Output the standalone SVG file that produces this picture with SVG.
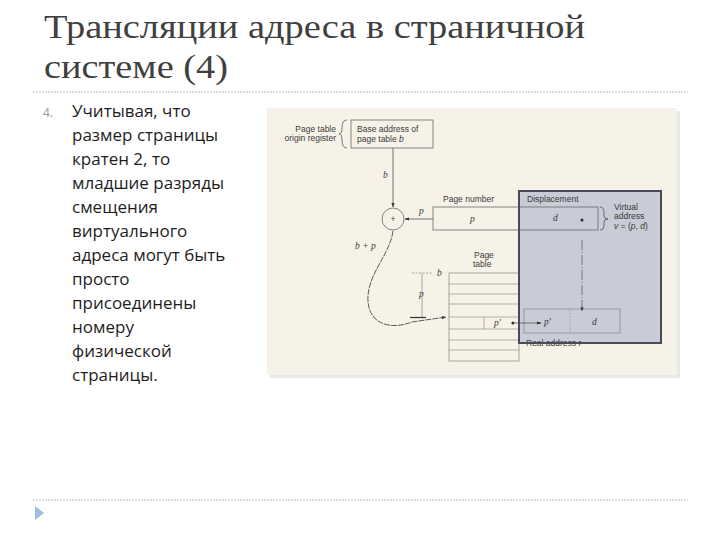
<svg xmlns="http://www.w3.org/2000/svg" width="720" height="540" viewBox="0 0 720 540">
<defs>
<style>
.title{font-family:"Liberation Serif","DejaVu Serif",serif;font-size:34px;fill:#404040}
.body{font-family:"Open Sans","Noto Sans",sans-serif;font-size:17px;fill:#1e1e1e}
.num{font-family:"Open Sans","Noto Sans",sans-serif;font-size:12px;fill:#9a9a9a}
.f{font-family:"Liberation Sans","DejaVu Sans",sans-serif;font-size:8.5px;fill:#3a3a3a}
.fi{font-family:"Liberation Serif","DejaVu Serif",serif;font-size:9.5px;font-style:italic;fill:#3a3a3a}
.ln{stroke:#555;stroke-width:0.8;fill:none}
.box{fill:none;stroke:#6a6a6a;stroke-width:0.8}
.row{stroke:#8a8480;stroke-width:0.6}
</style>
<marker id="ah" viewBox="0 0 10 10" refX="9" refY="5" markerWidth="6" markerHeight="6" orient="auto">
<path d="M0,1.5 L10,5 L0,8.5 z" fill="#333"/>
</marker>
</defs>
<rect width="720" height="540" fill="#ffffff"/>

<g id="title">
<text class="title" x="44" y="38" textLength="541" lengthAdjust="spacingAndGlyphs">Трансляции адреса в страничной</text>
<text class="title" x="44" y="78" textLength="184" lengthAdjust="spacingAndGlyphs">системе (4)</text>
<line x1="33" y1="92" x2="688" y2="92" stroke="#b8b8b8" stroke-width="1" stroke-dasharray="2,1"/>
</g>

<g id="body-text">
<text class="num" x="43" y="117">4.</text>
<text class="body" x="72">
<tspan x="72" y="117">Учитывая, что</tspan>
<tspan x="72" y="141">размер страницы</tspan>
<tspan x="72" y="165">кратен 2, то</tspan>
<tspan x="72" y="189">младшие разряды</tspan>
<tspan x="72" y="213">смещения</tspan>
<tspan x="72" y="237">виртуального</tspan>
<tspan x="72" y="261">адреса могут быть</tspan>
<tspan x="72" y="285">просто</tspan>
<tspan x="72" y="309">присоединены</tspan>
<tspan x="72" y="333">номеру</tspan>
<tspan x="72" y="357">физической</tspan>
<tspan x="72" y="381">страницы.</tspan>
</text>
</g>

<g id="figure-bg">
<rect x="270" y="111" width="410" height="267" fill="#d8d8d8" opacity="0.6"/>
<rect x="267" y="108" width="410" height="267" fill="#f6f2e8"/>
</g>

<g id="panel">
<rect x="519" y="191" width="142" height="152" fill="#c9cbd7"/>
</g>

<g id="base-register">
<text class="f" x="336" y="132" text-anchor="end">Page table</text>
<text class="f" x="336" y="141" text-anchor="end">origin register</text>
<path class="ln" d="M347,120 Q342,120 342,128 Q342,134 339,134 Q342,134 342,140 Q342,148 347,148"/>
<rect class="box" x="351" y="120" width="82" height="28"/>
<text class="f" x="357" y="132">Base address of</text>
<text class="f" x="357" y="142">page table <tspan font-style="italic">b</tspan></text>
</g>

<g id="adder">
<circle cx="393" cy="219" r="11" fill="none" stroke="#777" stroke-width="0.9"/>
<text class="f" x="393" y="222" text-anchor="middle">+</text>
</g>

<g id="virtual-address">
<text class="f" x="443" y="202">Page number</text>
<text class="f" x="527" y="202" fill="#4a4a5a">Displacement</text>
<rect class="box" x="433" y="207" width="165" height="23"/>
<line class="box" x1="519" y1="207" x2="519" y2="230"/>
<text class="fi" x="470" y="222">p</text>
<text class="fi" x="553" y="221">d</text>
<circle cx="582" cy="220" r="1.6" fill="#333"/>
<path class="ln" d="M600,207 Q604,207 604,212 L604,216 Q604,219 608,219 Q604,219 604,222 L604,226 Q604,230 600,230"/>
<text class="f" x="614" y="210">Virtual</text>
<text class="f" x="614" y="219">address</text>
<text class="f" x="614" y="229"><tspan font-style="italic">v</tspan> = (<tspan font-style="italic">p</tspan>, <tspan font-style="italic">d</tspan>)</text>
</g>

<g id="page-table">
<text class="f" x="474" y="258">Page</text>
<text class="f" x="473" y="267">table</text>
<rect x="449" y="273" width="70" height="88" fill="none" stroke="#8a8480" stroke-width="0.7"/>
<line class="row" x1="449" y1="284" x2="519" y2="284"/>
<line class="row" x1="449" y1="294" x2="519" y2="294"/>
<line class="row" x1="449" y1="304" x2="519" y2="304"/>
<line class="row" x1="449" y1="317" x2="519" y2="317"/>
<line class="row" x1="449" y1="329" x2="519" y2="329"/>
<line class="row" x1="449" y1="340" x2="519" y2="340"/>
<line class="row" x1="449" y1="350" x2="519" y2="350"/>
<line class="row" x1="484" y1="317" x2="484" y2="329"/>
<text class="fi" x="494" y="326">p'</text>
<circle cx="513" cy="323" r="1.6" fill="#333"/>
<text class="fi" x="437" y="276">b</text>
<line x1="412" y1="273" x2="433" y2="273" stroke="#888" stroke-width="0.7" stroke-dasharray="2,1.5"/>
<line x1="422" y1="273" x2="422" y2="317" stroke="#888" stroke-width="0.7"/>
<text class="fi" x="419" y="297">p</text>
</g>

<g id="real-address">
<rect x="524" y="309" width="96" height="24" fill="none" stroke="#8a8a96" stroke-width="0.8"/>
<line x1="570" y1="310" x2="570" y2="332" stroke="#999" stroke-width="0.8" stroke-dasharray="1.5,1.5"/>
<text class="fi" x="544" y="325">p'</text>
<text class="fi" x="592" y="325">d</text>
<text class="f" x="526" y="346" fill="#4a4a5a">Real address r</text>
</g>

<g id="panel-border">
<rect x="519" y="191" width="142" height="152" fill="none" stroke="#4a4a5c" stroke-width="2"/>
</g>

<g id="connectors">
<line class="ln" x1="393" y1="148" x2="393" y2="207" marker-end="url(#ah)"/>
<text class="fi" x="383" y="178">b</text>
<line class="ln" x1="433" y1="219" x2="405" y2="219" marker-end="url(#ah)"/>
<text class="fi" x="419" y="214">p</text>
<path d="M393,231 C390,255 366,275 368,302 C370,325 392,330 412,322 L446,317" fill="none" stroke="#333" stroke-width="0.8" stroke-dasharray="6,1" marker-end="url(#ah)"/>
<line x1="410" y1="317.5" x2="426" y2="317.5" stroke="#333" stroke-width="1.2"/>
<text class="fi" x="355" y="249">b + p</text>
<line class="ln" x1="515" y1="323" x2="541" y2="323" marker-end="url(#ah)"/>
<line x1="582" y1="240" x2="582" y2="311" stroke="#555" stroke-width="0.7" stroke-dasharray="10,2,1,2" marker-end="url(#ah)"/>
</g>

<g id="footer">
<line x1="33" y1="500" x2="688" y2="500" stroke="#b8b8b8" stroke-width="1" stroke-dasharray="2,1"/>
<path d="M35,506 L44,513 L35,520 z" fill="#9cc0de"/>
</g>
</svg>
